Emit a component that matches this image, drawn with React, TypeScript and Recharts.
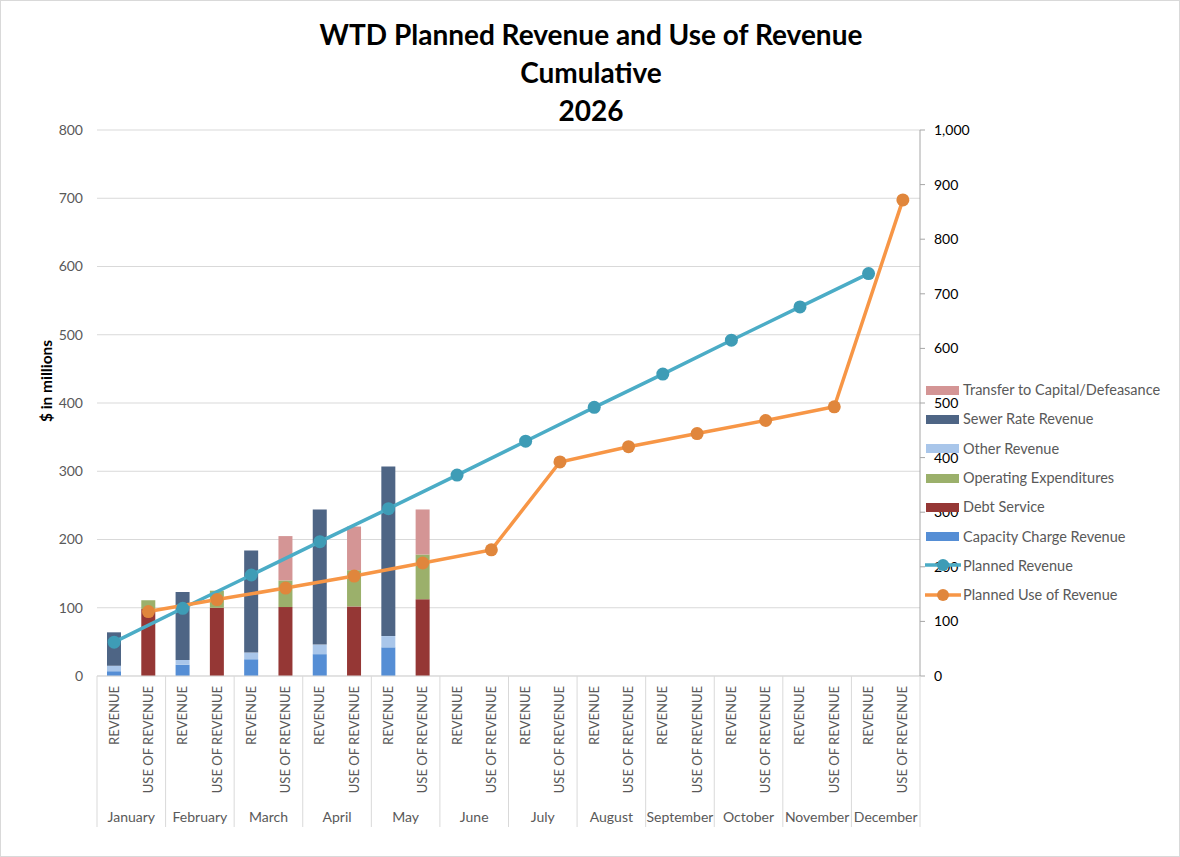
import { ComposedChart, Bar, Line, XAxis, YAxis, CartesianGrid } from 'recharts';

const months = [
  'January', 'February', 'March', 'April', 'May', 'June',
  'July', 'August', 'September', 'October', 'November', 'December',
];
const columnTypes = ['REVENUE', 'USE OF REVENUE'];

// $ millions, left axis (only Jan-May reported so far)
const capacityCharge = [7, 16.5, 24.5, 32, 42];
const otherRevenue = [8, 7, 10, 14, 16.5];
const sewerRate = [49, 99.5, 149.5, 198, 248.5];
const debtService = [98, 100, 101, 102, 112.5];
const operatingExp = [13, 25, 39, 53, 65.5];
const transferCapital = [0, 0, 65, 64, 66];

// right axis
const plannedRevenue = [62, 124, 185, 246, 306.5, 368, 430, 492, 553, 615, 676, 737];
const plannedUse = [118, 140, 161, 183, 207, 231, 392, 420, 444, 468, 493, 872];

const leftTicks = [0, 100, 200, 300, 400, 500, 600, 700, 800];
const rightTicks = [0, 100, 200, 300, 400, 500, 600, 700, 800, 900, 1000];

const data = months.flatMap((month, i) => [
  {
    key: `${month}-${columnTypes[0]}`,
    month,
    type: columnTypes[0],
    capacity: capacityCharge[i] ?? null,
    other: otherRevenue[i] ?? null,
    sewer: sewerRate[i] ?? null,
    planned: plannedRevenue[i],
  },
  {
    key: `${month}-${columnTypes[1]}`,
    month,
    type: columnTypes[1],
    debt: debtService[i] ?? null,
    opex: operatingExp[i] ?? null,
    transfer: transferCapital[i] ?? null,
    plannedUse: plannedUse[i],
  },
]);

const W = 1180;
const H = 857;
const LEFT_W = 97;
const RIGHT_W = 260;
const TOP = 130;
const XAXIS_H = 180;
const BAND = (W - LEFT_W - RIGHT_W) / data.length;

const FONT = 'Lato, "Open Sans", sans-serif';
const GRID = '#d9d9d9';
const TEXT = '#595959';

const colors = {
  capacity: '#558ed5',
  other: '#a9c6ea',
  sewer: '#4e6585',
  debt: '#953735',
  opex: '#9bb06b',
  transfer: '#d49595',
  planned: '#4bacc6',
  plannedDot: '#3e9cb6',
  use: '#f79646',
  useDot: '#e0863c',
};

const legendItems = [
  { label: 'Transfer to Capital/Defeasance', color: colors.transfer, kind: 'bar' },
  { label: 'Sewer Rate Revenue', color: colors.sewer, kind: 'bar' },
  { label: 'Other Revenue', color: colors.other, kind: 'bar' },
  { label: 'Operating Expenditures', color: colors.opex, kind: 'bar' },
  { label: 'Debt Service', color: colors.debt, kind: 'bar' },
  { label: 'Capacity Charge Revenue', color: colors.capacity, kind: 'bar' },
  { label: 'Planned Revenue', color: colors.planned, dot: colors.plannedDot, kind: 'line' },
  { label: 'Planned Use of Revenue', color: colors.use, dot: colors.useDot, kind: 'line' },
];

function CategoryTick(props: any) {
  const { x, y, payload } = props;
  const row = data[payload.index];
  const isRevenue = row.type === columnTypes[0];
  const isLast = payload.index === data.length - 1;
  return (
    <g>
      <text
        transform={`translate(${x + 4.5},${y + 10}) rotate(-90)`}
        textAnchor="end"
        fontSize={13}
        fill={TEXT}
      >
        {row.type}
      </text>
      {isRevenue && (
        <>
          <line x1={x - BAND / 2} x2={x - BAND / 2} y1={y} y2={y + 151} stroke={GRID} />
          <text x={x + BAND / 2} y={y + 146} textAnchor="middle" fontSize={14} fill={TEXT}>
            {row.month}
          </text>
        </>
      )}
      {isLast && <line x1={x + BAND / 2} x2={x + BAND / 2} y1={y} y2={y + 151} stroke={GRID} />}
    </g>
  );
}

export default function App() {
  return (
    <div
      style={{
        position: 'relative',
        width: W,
        height: H,
        fontFamily: FONT,
        boxSizing: 'border-box',
        border: `1px solid ${GRID}`,
        background: '#fff',
      }}
    >
      <style>{`body{margin:0}`}</style>
      <div
        style={{
          position: 'absolute',
          top: 14,
          left: 0,
          width: W,
          textAlign: 'center',
          fontSize: 28,
          fontWeight: 700,
          lineHeight: '38px',
          color: '#000',
        }}
      >
        WTD Planned Revenue and Use of Revenue
        <br />
        Cumulative
        <br />
        2026
      </div>
      <div
        style={{
          position: 'absolute',
          left: 45,
          top: 380,
          transform: 'translate(-50%, -50%) rotate(-90deg)',
          fontSize: 15.5,
          fontWeight: 700,
          whiteSpace: 'nowrap',
          color: '#000',
        }}
      >
        $ in millions
      </div>

      <ComposedChart
        width={W - 2}
        height={H - 2}
        data={data}
        margin={{ top: TOP - 1, right: 0, bottom: 0, left: 0 }}
        barGap={0}
      >
        <CartesianGrid vertical={false} stroke={GRID} yAxisId="left" />
        <XAxis
          dataKey="key"
          interval={0}
          height={XAXIS_H}
          axisLine={{ stroke: GRID }}
          tickLine={false}
          tickSize={0}
          tickMargin={0}
          tick={<CategoryTick />}
        />
        <YAxis
          yAxisId="left"
          width={LEFT_W - 1}
          domain={[0, 800]}
          ticks={leftTicks}
          axisLine={false}
          tickLine={false}
          tickSize={6}
          tickMargin={8}
          tick={{ fill: TEXT, fontSize: 14 }}
        />
        <YAxis
          yAxisId="right"
          orientation="right"
          width={RIGHT_W - 1}
          domain={[0, 1000]}
          ticks={rightTicks}
          axisLine={{ stroke: '#a6a6a6' }}
          tickLine={{ stroke: '#a6a6a6' }}
          tickSize={5}
          tickMargin={9}
          tickFormatter={(v: number) => v.toLocaleString('en-US')}
          tick={{ fill: '#000', fontSize: 14 }}
        />
        <Bar dataKey="capacity" stackId="s" yAxisId="left" barSize={14} fill={colors.capacity} isAnimationActive={false} />
        <Bar dataKey="other" stackId="s" yAxisId="left" barSize={14} fill={colors.other} isAnimationActive={false} />
        <Bar dataKey="sewer" stackId="s" yAxisId="left" barSize={14} fill={colors.sewer} isAnimationActive={false} />
        <Bar dataKey="debt" stackId="s" yAxisId="left" barSize={14} fill={colors.debt} isAnimationActive={false} />
        <Bar dataKey="opex" stackId="s" yAxisId="left" barSize={14} fill={colors.opex} isAnimationActive={false} />
        <Bar dataKey="transfer" stackId="s" yAxisId="left" barSize={14} fill={colors.transfer} isAnimationActive={false} />
        <Line
          dataKey="planned"
          yAxisId="right"
          stroke={colors.planned}
          strokeWidth={3.5}
          connectNulls
          dot={{ r: 6.5, fill: colors.plannedDot, stroke: 'none' }}
          activeDot={false}
          isAnimationActive={false}
        />
        <Line
          dataKey="plannedUse"
          yAxisId="right"
          stroke={colors.use}
          strokeWidth={3.5}
          connectNulls
          dot={{ r: 6.5, fill: colors.useDot, stroke: 'none' }}
          activeDot={false}
          isAnimationActive={false}
        />
      </ComposedChart>

      <div style={{ position: 'absolute', left: 924, top: 374 }}>
        {legendItems.map((item) => (
          <div key={item.label} style={{ display: 'flex', alignItems: 'center', height: 29.3 }}>
            <svg width={38} height={16} style={{ flexShrink: 0 }}>
              {item.kind === 'bar' ? (
                <rect x={1} y={4} width={33} height={9} fill={item.color} />
              ) : (
                <>
                  <line x1={0} x2={36} y1={8} y2={8} stroke={item.color} strokeWidth={3.5} />
                  <circle cx={18} cy={8} r={6} fill={item.dot} />
                </>
              )}
            </svg>
            <span style={{ fontSize: 14.5, color: TEXT, whiteSpace: 'nowrap' }}>{item.label}</span>
          </div>
        ))}
      </div>
    </div>
  );
}
